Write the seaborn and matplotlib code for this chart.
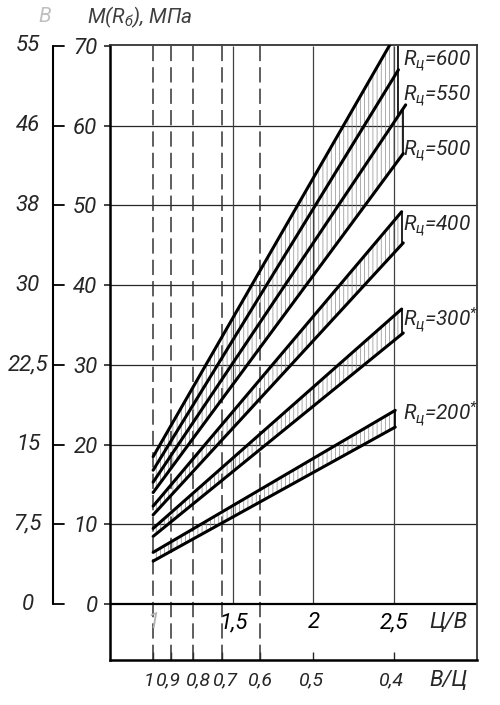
import numpy as np
import pandas as pd
import seaborn as sns
import matplotlib.pyplot as plt
from matplotlib.transforms import ScaledTranslation

# ---- data ----
cv_ticks = [1, 1.5, 2, 2.5]                      # Ц/В scale
cv_labels = ['1', '1,5', '2', '2,5']
wc_ratio = [1, 0.9, 0.8, 0.7, 0.6, 0.5, 0.4]     # В/Ц scale
wc_labels = ['1', '0,9', '0,8', '0,7', '0,6', '0,5', '0,4']
m_ticks = [0, 10, 20, 30, 40, 50, 60, 70]        # M(Rб), МПа
b_class = ['0', '7,5', '15', '22,5', '30', '38', '46', '55']

# straight lines: value at Ц/В = 1 and the end point
line_ids = ['A', 'B', 'C', 'D', 'E', 'F', 'G', 'H', 'I', 'J']
cv_start = [1.0] * 10
m_start = [18.5, 16.8, 15.3, 14.0, 12.3, 11.2, 9.5, 8.5, 6.5, 5.4]
cv_end = [2.53, 2.53, 2.575, 2.56, 2.55, 2.56, 2.55, 2.56, 2.51, 2.51]
m_end = [72.0, 67.0, 62.6, 56.5, 49.2, 45.3, 37.0, 34.0, 24.3, 22.2]

cement = ['600', '550', '500', '400', '300', '200']
band_upper = ['A', 'B', 'C', 'E', 'G', 'I']
band_lower = ['B', 'C', 'D', 'F', 'H', 'J']
starred = ['300', '200']

df = pd.DataFrame({
    'line': line_ids * 2,
    'cv': cv_start + cv_end,
    'm': m_start + m_end,
})

sns.set_style('white')
plt.rcParams['font.family'] = ['Roboto', 'DejaVu Sans']
plt.rcParams['font.style'] = 'italic'
plt.rcParams['hatch.linewidth'] = 0.5
plt.rcParams['mathtext.fontset'] = 'custom'
plt.rcParams['mathtext.rm'] = 'Roboto:italic'
plt.rcParams['mathtext.it'] = 'Roboto:italic'

fig = plt.figure(figsize=(5, 7.05), dpi=100)
ax = fig.add_axes([0.22, 0.0638, 0.734, 0.8723])
ax.set_xlim(0.731, 3.02)
ax.set_ylim(-7.0, 70.1)

# grid
for v in m_ticks[1:-1]:
    ax.axhline(v, color='0.15', lw=0.9, zorder=1)
ax.axhline(0, color='black', lw=1.6, zorder=2)
ax.vlines(cv_ticks[1:], 0, 70, color='0.25', lw=0.9, zorder=1)
ax.vlines([1 / w for w in wc_ratio[:5]], -7, 70, color='0.2', lw=1.1,
          linestyles=(0, (10, 4)), zorder=1)

# hatched bands
ends = dict(zip(line_ids, zip(cv_start, m_start, cv_end, m_end)))
for up, lo in zip(band_upper, band_lower):
    u = ends[up]
    l = ends[lo]
    x_end = min(u[2], l[2])
    xs = np.linspace(1.0, x_end, 60)
    yu = np.minimum(np.interp(xs, [u[0], u[2]], [u[1], u[3]]), 70)
    yl = np.interp(xs, [l[0], l[2]], [l[1], l[3]])
    ax.fill_between(xs, yl, yu, facecolor='none', edgecolor='0.55',
                    hatch='||||', lw=0, zorder=2)
    ax.vlines(x_end, yl[-1], yu[-1], color='black', lw=1.2, zorder=3)

sns.lineplot(data=df, x='cv', y='m', units='line', estimator=None,
             color='black', lw=2.2, ax=ax, zorder=4)
ax.set_xlabel('')
ax.set_ylabel('')

# labels of the bands
label_y = [68.1, 63.7, 56.8, 47.4, 35.6, 23.8]
for r, y in zip(cement, label_y):
    txt = r'$R_{ц}$=' + r
    if r in starred:
        txt += r'$^{*}$'
    ax.text(2.56, y, txt, ha='left', va='center', fontsize=15)

# axes frame
for side in ['left', 'bottom']:
    ax.spines[side].set_linewidth(1.8)
    ax.spines[side].set_color('black')
for side in ['top', 'right']:
    ax.spines[side].set_linewidth(1.3)
    ax.spines[side].set_color('0.2')

ax.set_yticks(m_ticks, labels=[str(v) for v in m_ticks])
ax.tick_params(axis='y', direction='out', length=4, width=1.2,
               labelsize=16, pad=5, left=True)
ax.set_xticks([1 / w for w in wc_ratio], labels=[])
ax.tick_params(axis='x', direction='in', length=6, width=1.0, bottom=True)

# В/Ц labels, packed tightly as in the print
nudge_px = [-4, -2, 5, 4, 0, -2, -2]
for w, lab, dx in zip(wc_ratio, wc_labels, nudge_px):
    tr = ax.transData + ScaledTranslation(dx / 100, 0, fig.dpi_scale_trans)
    ax.text(1 / w, -9.6, lab, transform=tr, ha='center', va='center',
            fontsize=14, clip_on=False)
ax.text(2.84, -9.6, 'В/Ц', ha='center', va='center', fontsize=16,
        clip_on=False)

for x, lab in zip(cv_ticks, cv_labels):
    ax.text(x, -2.3, lab, ha='center', va='center', fontsize=16,
            color='0.7' if lab == '1' else 'black')
ax.text(2.84, -2.3, 'Ц/В', ha='center', va='center', fontsize=16)

# outer class scale
trans = ax.get_yaxis_transform()
xb = (53 - 110) / 367
ax.plot([xb, xb], [0, 70], transform=trans, clip_on=False, color='black', lw=1.5)
for v, lab in zip(m_ticks, b_class):
    ax.plot([xb, xb + 0.03], [v, v], transform=trans, clip_on=False,
            color='black', lw=1.3)
    ax.text(-0.2234, v, lab, transform=trans, ha='center', va='center',
            fontsize=16)

fig.text(45 / 500, 1 - 17 / 705, 'В', ha='center', va='center',
         fontsize=15, color='0.75')
fig.text(140 / 500, 1 - 17 / 705, r'M(R$_{б}$), МПа', ha='center',
         va='center', fontsize=15, color='0.25')

fig.savefig('out.png', dpi=100)
